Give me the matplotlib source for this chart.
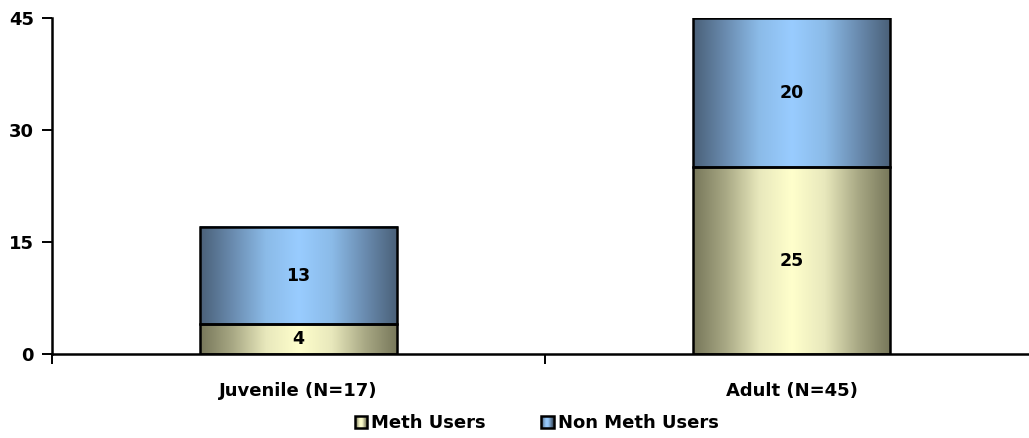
import numpy as np
import matplotlib.pyplot as plt
from matplotlib.colors import LinearSegmentedColormap
from matplotlib.patches import Rectangle
from matplotlib.legend_handler import HandlerBase

# datos
grupos = ["Juvenile (N=17)", "Adult (N=45)"]
meth = [4, 25]
no_meth = [13, 20]
series = ["Meth Users", "Non Meth Users"]

# gradientes horizontales: borde oscuro, centro claro
cmap_meth = LinearSegmentedColormap.from_list(
    "meth", ["#77775a", "#a9a985", "#e8e8bc", "#ffffcc", "#e8e8bc", "#a9a985", "#77775a"])
cmap_no = LinearSegmentedColormap.from_list(
    "nometh", ["#4a6078", "#6a8cb0", "#8bbbe8", "#99ccff", "#8bbbe8", "#6a8cb0", "#4a6078"])

fig = plt.figure(figsize=(10.29, 4.38), dpi=100)
ax = fig.add_axes([52 / 1029, 1 - 354 / 438, (1038 - 52) / 1029, (354 - 18) / 438])

x = np.arange(len(grupos))
ancho = 0.4
grad = np.linspace(0, 1, 256).reshape(1, -1)


def barra_gradiente(ax, rects, cmap, etiquetas):
    for r, val in zip(rects, etiquetas):
        x0, y0 = r.get_x(), r.get_y()
        w, h = r.get_width(), r.get_height()
        ax.imshow(grad, cmap=cmap, aspect="auto", extent=(x0, x0 + w, y0, y0 + h),
                  zorder=1, interpolation="bicubic")
        ax.add_patch(Rectangle((x0, y0), w, h, fill=False, edgecolor="black", lw=1.8, zorder=2))
        ax.text(x0 + w / 2, y0 + h / 2, str(val), ha="center", va="center",
                fontsize=12.5, fontweight="bold", zorder=3)


b1 = ax.bar(x, meth, ancho, color="none")
b2 = ax.bar(x, no_meth, ancho, bottom=meth, color="none")
barra_gradiente(ax, b1, cmap_meth, meth)
barra_gradiente(ax, b2, cmap_no, no_meth)

ax.set_xlim(-0.5, 1.5)
ax.set_ylim(0, 45)
ax.set_yticks([0, 15, 30, 45])
ax.set_xticks(x)
ax.set_xticklabels(grupos)
ax.set_xticks([-0.5, 0.5, 1.5], minor=True)
ax.tick_params(axis="x", which="major", length=0, pad=20, labelsize=13)
ax.tick_params(axis="x", which="minor", length=7, width=1.4, direction="out")
ax.tick_params(axis="y", length=7, width=1.4, direction="out", labelsize=13, pad=6)
for lab in ax.get_xticklabels() + ax.get_yticklabels():
    lab.set_fontweight("bold")
for s in ["top", "right"]:
    ax.spines[s].set_visible(False)
for s in ["left", "bottom"]:
    ax.spines[s].set_linewidth(1.8)
ax.set_aspect("auto")


class HandlerGrad(HandlerBase):
    def __init__(self, cmap):
        super().__init__()
        self.cmap = cmap

    def create_artists(self, legend, orig, xd, yd, w, h, fontsize, trans):
        s = h * 0.95
        x0 = xd + w - s
        y0 = yd - (s - h) / 2
        arts = []
        n = 12
        cols = self.cmap(np.linspace(0, 1, n))
        for i in range(n):
            arts.append(Rectangle((x0 + i * s / n, y0), s / n + 0.3, s, facecolor=cols[i],
                                  edgecolor="none", transform=trans))
        arts.append(Rectangle((x0, y0), s, s, fill=False, edgecolor="black", lw=1.8, transform=trans))
        return arts


h1 = Rectangle((0, 0), 1, 1)
h2 = Rectangle((0, 0), 1, 1)
fig.legend([h1, h2], series, loc="center", bbox_to_anchor=(536 / 1029, 1 - 423 / 438),
           ncol=2, frameon=False, handlelength=0.75, handletextpad=0.25, columnspacing=3.0,
           prop={"weight": "bold", "size": 13},
           handler_map={h1: HandlerGrad(cmap_meth), h2: HandlerGrad(cmap_no)})

fig.savefig("out.png", dpi=100)
